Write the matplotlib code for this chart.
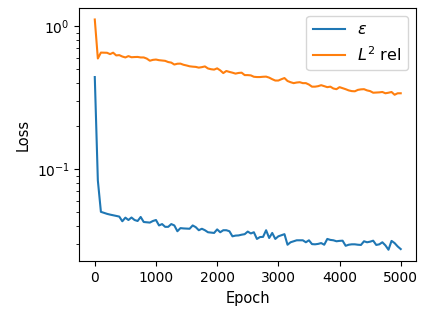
import numpy as np
import matplotlib.pyplot as plt

# Epocas (a cada 50)
epochs = np.arange(0, 5001, 50)

# Perda epsilon (azul)
loss_eps = [
    0.44, 0.0835, 0.0504, 0.0496, 0.0488, 0.0482, 0.0477, 0.0472, 0.0467, 0.0433,
    0.0459, 0.0442, 0.0460, 0.0442, 0.0435, 0.0464, 0.0428, 0.0426, 0.0424, 0.0435,
    0.0442, 0.0405, 0.0414, 0.0396, 0.0396, 0.0414, 0.0405, 0.0369, 0.0388, 0.0386,
    0.0385, 0.0384, 0.0405, 0.0394, 0.0375, 0.0384, 0.0375, 0.0363, 0.0361, 0.0359,
    0.0380, 0.0363, 0.0375, 0.0375, 0.0369, 0.0340, 0.0344, 0.0345, 0.0349, 0.0352,
    0.0367, 0.0356, 0.0363, 0.0326, 0.0336, 0.0337, 0.0375, 0.0331, 0.0359, 0.0326,
    0.0340, 0.0346, 0.0352, 0.0297, 0.0309, 0.0314, 0.0319, 0.0319, 0.0319, 0.0309,
    0.0319, 0.0300, 0.0299, 0.0301, 0.0305, 0.0297, 0.0326, 0.0321, 0.0319, 0.0314,
    0.0316, 0.0317, 0.0292, 0.0297, 0.0299, 0.0299, 0.0297, 0.0296, 0.0314, 0.0309,
    0.0312, 0.0317, 0.0296, 0.0299, 0.0309, 0.0294, 0.0274, 0.0316, 0.0305, 0.0289,
    0.0277,
]

# Erro L2 relativo (laranja)
loss_l2 = [
    1.11, 0.593, 0.652, 0.651, 0.650, 0.636, 0.651, 0.623, 0.626, 0.612,
    0.603, 0.616, 0.605, 0.607, 0.608, 0.603, 0.603, 0.592, 0.572, 0.580,
    0.583, 0.577, 0.574, 0.571, 0.560, 0.555, 0.538, 0.545, 0.546, 0.536,
    0.530, 0.523, 0.520, 0.518, 0.512, 0.516, 0.522, 0.505, 0.499, 0.496,
    0.506, 0.490, 0.469, 0.485, 0.478, 0.472, 0.465, 0.470, 0.472, 0.454,
    0.454, 0.452, 0.442, 0.440, 0.440, 0.442, 0.443, 0.436, 0.425, 0.416,
    0.416, 0.425, 0.433, 0.413, 0.405, 0.399, 0.403, 0.405, 0.399, 0.399,
    0.390, 0.377, 0.377, 0.380, 0.386, 0.380, 0.374, 0.377, 0.366, 0.362,
    0.374, 0.368, 0.362, 0.355, 0.351, 0.350, 0.358, 0.361, 0.362, 0.355,
    0.351, 0.342, 0.343, 0.344, 0.346, 0.339, 0.342, 0.346, 0.331, 0.339,
    0.339,
]

labels = [r'$\varepsilon$', r'$L^2$ rel']

fig = plt.figure(figsize=(4.32, 3.19), dpi=100)
ax = fig.add_axes([0.184, 0.181, 0.779, 0.794])

ax.plot(epochs, loss_eps, label=labels[0])
ax.plot(epochs, loss_l2, label=labels[1])
ax.set_yscale('log')
ax.set_xlabel('Epoch', fontsize=10.5)
ax.set_ylabel('Loss', fontsize=10.5)
ax.set_xticks([0, 1000, 2000, 3000, 4000, 5000])
ax.legend(loc='upper right', fontsize=11.5)

fig.savefig('out.png', dpi=100)
